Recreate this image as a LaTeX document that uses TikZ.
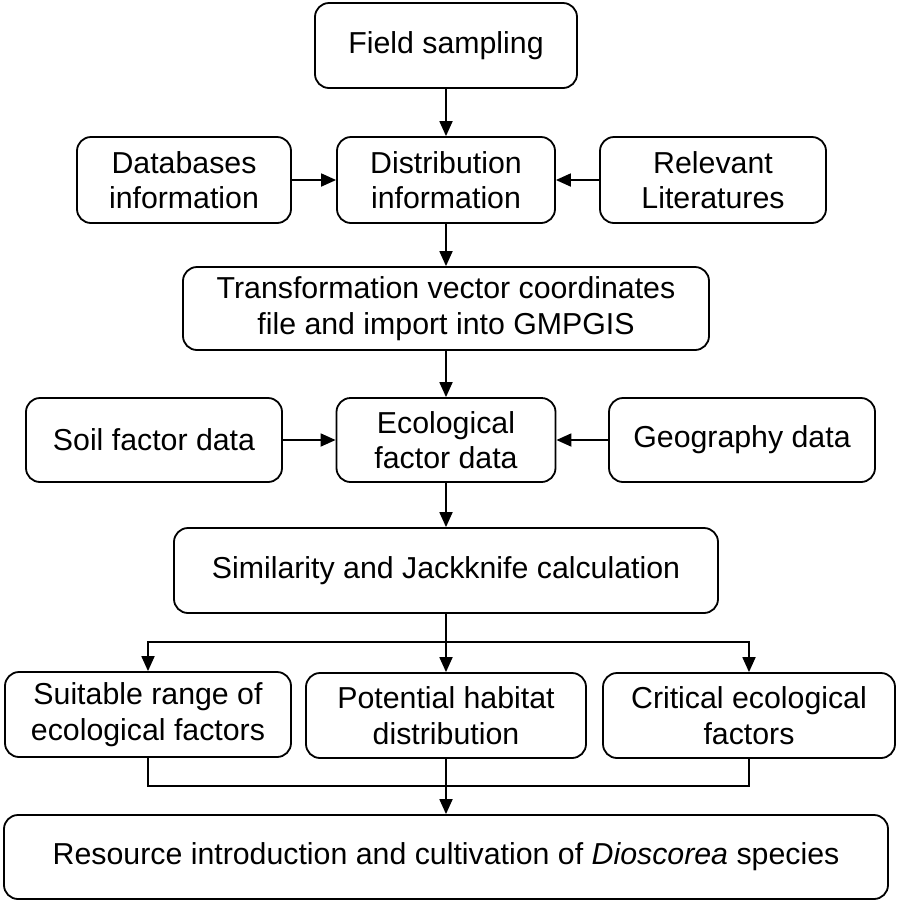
\documentclass[tikz,border=0pt]{standalone}
\usepackage{fontspec}
\setmainfont{Liberation Sans}
\usetikzlibrary{arrows.meta}
\tikzset{
	box/.style={draw=black, line width=1.8pt, rounded corners=14pt, align=center, inner sep=0pt,
		font=\fontsize{30.3}{35.5}\selectfont},
	link/.style={line width=1.8pt},
	arr/.style={link, -{Triangle[length=15pt,width=13pt]}}
}
\begin{document}
\begin{tikzpicture}[x=1pt,y=-1pt]
				\useasboundingbox (0,0) rectangle (898,906);
				
				\node[box, minimum width=262pt, minimum height=85pt] (field) at (446,45.5) {Field sampling};
				\node[box, minimum width=214pt, minimum height=86pt] (db) at (184,180) {Databases\\information};
				\node[box, minimum width=218pt, minimum height=86pt] (dist) at (446,180) {Distribution\\information};
				\node[box, minimum width=226pt, minimum height=86pt] (lit) at (713,180) {Relevant\\Literatures};
				\node[box, minimum width=526pt, minimum height=83pt] (trans) at (446,308.5) {Transformation vector coordinates\\file and import into GMPGIS};
				\node[box, minimum width=256pt, minimum height=84pt] (soil) at (154,440) {Soil factor data};
				\node[box, minimum width=219pt, minimum height=84pt] (eco) at (446,440) {Ecological\\factor data};
				\node[box, minimum width=266pt, minimum height=84pt] (geo) at (742,440) {Geography data};
				\node[box, minimum width=544pt, minimum height=85pt] (sim) at (446,570.5) {Similarity and Jackknife calculation};
				\node[box, minimum width=286pt, minimum height=85pt] (suit) at (148,714.5) {Suitable range of\\ecological factors};
				\node[box, minimum width=280pt, minimum height=85pt] (pot) at (446,715.5) {Potential habitat\\distribution};
				\node[box, minimum width=292pt, minimum height=85pt] (crit) at (749,715.5) {Critical ecological\\factors};
				\node[box, minimum width=884pt, minimum height=84pt] (res) at (446,857) {Resource introduction and cultivation of \textit{Dioscorea} species};
				
				\coordinate (split) at (446,642);
				\coordinate (join) at (446,786);
				
				\draw[arr] (field) -- (dist);
				\draw[arr] (db) -- (dist);
				\draw[arr] (lit) -- (dist);
				\draw[arr] (dist) -- (trans);
				\draw[arr] (trans) -- (eco);
				\draw[arr] (soil) -- (eco);
				\draw[arr] (geo) -- (eco);
				\draw[arr] (eco) -- (sim);
				
				\draw[link] (sim.south) -- (split);
				\draw[arr] (split) -| (suit.north);
				\draw[arr] (split) -| (crit.north);
				\draw[arr] (split) -- (pot.north);
				
				\draw[link] (suit.south) |- (join);
				\draw[link] (crit.south) |- (join);
				\draw[arr] (pot.south) -- (res.north);
			\end{tikzpicture}
\end{document}
